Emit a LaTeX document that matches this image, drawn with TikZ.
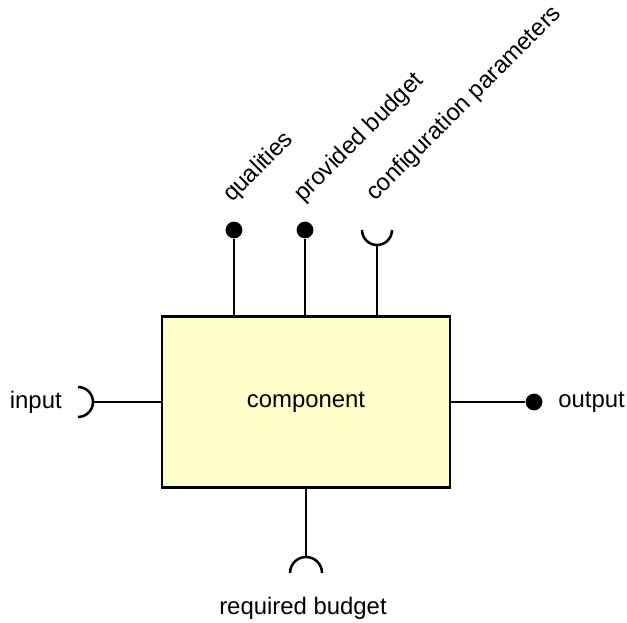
\documentclass[tikz,border=0pt]{standalone}
\usepackage{fontspec}
\setmainfont{Liberation Sans}
\definecolor{compfill}{RGB}{255,255,202}
\tikzset{
  wire/.style={line width=1.8pt},
  pinhead/.style={circle, fill=black, inner sep=0pt, minimum size=0.42cm},
  lbl/.style={font=\fontsize{17}{20}\selectfont, inner sep=0pt},
}

\begin{document}
\begin{tikzpicture}[x=0.025cm, y=-0.025cm]
  \useasboundingbox (0,0) rectangle (627,623);
  \node[draw, wire, fill=compfill, lbl, minimum width=7.2cm, minimum height=4.275cm] (comp) at (306,402) {component};
  \node[pinhead] (qual) at (234,230) {};
  \node[pinhead] (prov) at (305,230) {};
  \node[pinhead] (outp) at (534,402) {};
  \draw[wire] (362,230) arc[start angle=180, end angle=360, radius=0.375cm];
  \coordinate (cfg) at (377,245);
  \draw[wire] (78,387) arc[start angle=90, end angle=-90, radius=0.375cm];
  \coordinate (inp) at (93,402);
  \draw[wire] (290,573) arc[start angle=180, end angle=0, radius=0.4cm];
  \coordinate (req) at (306,557);
  \draw[wire] (qual) -- (qual |- comp.north);
  \draw[wire] (prov) -- (prov |- comp.north);
  \draw[wire] (cfg) -- (cfg |- comp.north);
  \draw[wire] (inp) -- (comp.west);
  \draw[wire] (comp.east) -- (outp);
  \draw[wire] (comp.south) -- (req);
  \node[lbl, anchor=east] (inlbl) at (62,402) {input};
  \node[lbl, anchor=west] (outlbl) at (558,402) {output};
  \node[lbl] (reqlbl) at (303,608) {required budget};
  \node[lbl, rotate=45, anchor=base west] (quallbl) at (232,203) {qualities};
  \node[lbl, rotate=45, anchor=base west] (provlbl) at (303,203) {provided budget};
  \node[lbl, rotate=45, anchor=base west] (cfglbl) at (375,202) {configuration parameters};
\end{tikzpicture}
\end{document}
